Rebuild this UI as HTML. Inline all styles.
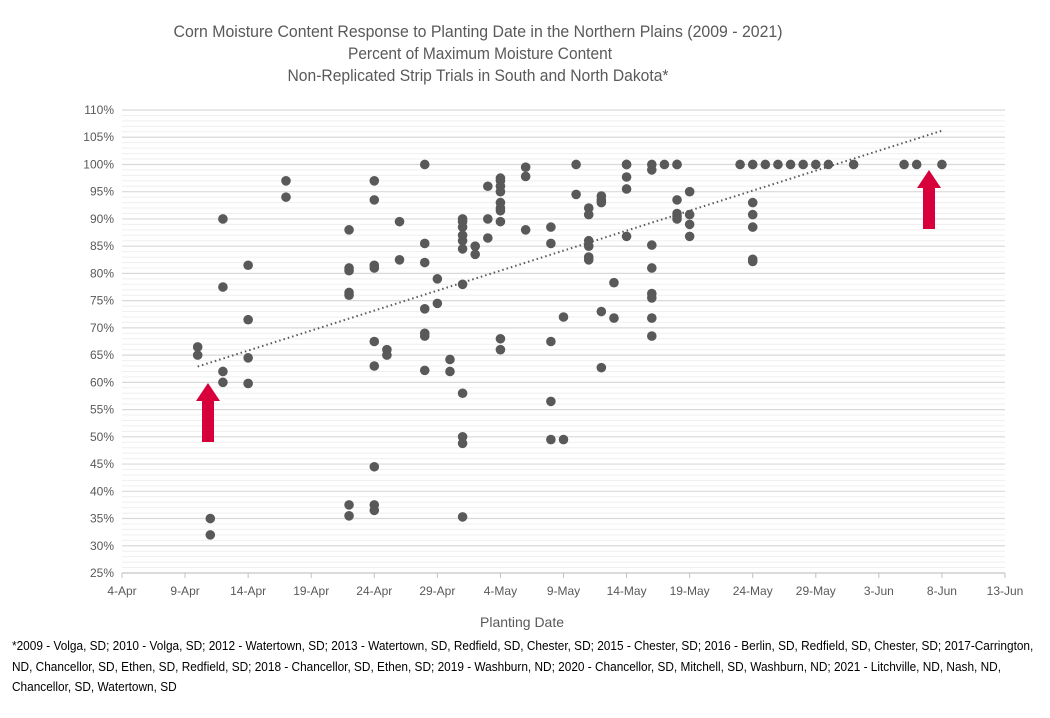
<!DOCTYPE html>
<html><head><meta charset="utf-8"><style>
body{margin:0;background:#fff;width:1050px;height:718px;overflow:hidden;font-family:"Liberation Sans Narrow","Liberation Sans",sans-serif;}
.foot{position:absolute;left:12px;top:636px;width:1150px;font-size:13.3px;line-height:20.5px;color:#000;transform:scaleX(0.89);transform-origin:0 0;}
</style></head><body>
<svg width="1050" height="718" style="position:absolute;left:0;top:0">
<g font-family="Liberation Sans Narrow, Liberation Sans, sans-serif" fill="#595959" text-anchor="middle" font-size="17">
<text x="478" y="37" textLength="609" lengthAdjust="spacingAndGlyphs">Corn Moisture Content Response to Planting Date in the Northern Plains (2009 - 2021)</text>
<text x="480" y="59" textLength="264" lengthAdjust="spacingAndGlyphs">Percent of Maximum Moisture Content</text>
<text x="478" y="81" textLength="381" lengthAdjust="spacingAndGlyphs">Non-Replicated Strip Trials in South and North Dakota*</text>
</g>
<g id="grid"></g><g id="yt"></g><g id="xt"></g>
<line id="trend" stroke="#595959" stroke-width="2" stroke-dasharray="1.5,3"/>
<g id="pts"></g>
<text x="522" y="627" font-size="14" fill="#595959" text-anchor="middle" font-family="Liberation Sans Narrow, Liberation Sans, sans-serif" textLength="84" lengthAdjust="spacingAndGlyphs">Planting Date</text>
<g><rect x="202" y="400" width="12" height="42" fill="#d8003a"/><polygon points="196,401 208,383 220,401" fill="#d8003a"/></g>
<g><rect x="923" y="187" width="12" height="42" fill="#d8003a"/><polygon points="917,188 929,170 941,188" fill="#d8003a"/></g>
</svg>
<div class="foot">*2009 - Volga, SD; 2010 - Volga, SD; 2012 - Watertown, SD; 2013 - Watertown, SD, Redfield, SD, Chester, SD; 2015 - Chester, SD; 2016 - Berlin, SD, Redfield, SD, Chester, SD; 2017-Carrington, ND, Chancellor, SD, Ethen, SD, Redfield, SD; 2018 - Chancellor, SD, Ethen, SD; 2019 - Washburn, ND; 2020 - Chancellor, SD, Mitchell, SD, Washburn, ND; 2021 - Litchville, ND, Nash, ND, Chancellor, SD, Watertown, SD</div>
<script>
const xTickLabels=["4-Apr","9-Apr","14-Apr","19-Apr","24-Apr","29-Apr","4-May","9-May","14-May","19-May","24-May","29-May","3-Jun","8-Jun","13-Jun"];
const yTicks=[25,30,35,40,45,50,55,60,65,70,75,80,85,90,95,100,105,110];
// days after 4-Apr
const pointDays=[6,6,7,7,8,8,8,8,10,10,10,10,13,13,
18,18,18,18,18,18,18,20,20,20,20,20,20,20,20,20,21,21,22,22,
24,24,24,24,24,24,24,25,25,26,26,
27,27,27,27,27,27,27,27,27,27,27,28,28,29,29,29,
30,30,30,30,30,30,30,30,30,30,32,32,32,
34,34,34,34,34,35,35,36,36,
37,37,37,37,37,37,38,38,38,38,38,39,39,
40,40,40,40,40,
42,42,42,42,42,42,42,42,43,44,44,44,44,44,44,45,45,45,45,
49,50,50,50,50,50,50,51,52,53,54,55,56,58,62,63,65];
const pointValues=[66.5,65,35,32,90,77.5,62,60,81.5,71.5,64.5,59.8,97,94,
88,81,80.5,76.5,76,37.5,35.5,97,93.5,81.5,81,67.5,63,44.5,37.5,36.5,66,65,89.5,82.5,
100,85.5,82,73.5,69,68.5,62.2,79,74.5,64.2,62,
90,89.5,88.5,87,86,84.5,78,58,50,48.8,35.3,85,83.5,96,90,86.5,
97.5,97,96,95,93,92,91.5,89.5,68,66,99.5,97.8,88,
88.5,85.5,67.5,56.5,49.5,72,49.5,100,94.5,
92,90.8,86,85,83,82.5,94.2,93.5,93,73,62.7,78.3,71.8,
100,100,97.7,95.5,86.8,
100,99,85.2,81,76.3,75.5,71.8,68.5,100,100,100,93.5,91,90.5,90,95,90.8,89,86.8,
100,100,93,90.8,88.5,82.6,82.2,100,100,100,100,100,100,100,100,100,100];
const trendDays=[6,65];
const trendValues=[62.9,106.2];
const X0=122,X1=1005,Y0=573,Y1=110;
const xs=d=>X0+d*(X1-X0)/70;
const ys=v=>Y0-(v-25)*(Y0-Y1)/85;
const NS="http://www.w3.org/2000/svg";
function mk(t,a,p){const e=document.createElementNS(NS,t);for(const k in a)e.setAttribute(k,a[k]);p.appendChild(e);return e;}
const grid=document.getElementById('grid');
for(let v=25;v<=110;v++){
 const l=mk('line',{x1:X0,x2:X1,y1:ys(v),y2:ys(v),stroke:v%5==0?'#d9d9d9':'#efefef','stroke-width':v%5==0?1.2:1},grid);
 
 
}
const yt=document.getElementById('yt');
yTicks.forEach(v=>{const t=mk('text',{x:X0-8,y:ys(v)+4,'font-size':12,fill:'#595959','text-anchor':'end'},yt);t.textContent=v+'%';
 
 });
const xt=document.getElementById('xt');
xTickLabels.forEach((s,i)=>{const t=mk('text',{x:xs(i*5),y:595,'font-size':12,fill:'#595959','text-anchor':'middle'},xt);t.textContent=s;
 
 
 const k=mk('line',{x1:xs(i*5),x2:xs(i*5),y1:Y0,y2:Y0+5,stroke:'#bfbfbf'},xt);
 
 });
const ax=mk('line',{x1:X0,x2:X1,y1:Y0,y2:Y0,stroke:'#bfbfbf'},xt);


const tr=document.getElementById('trend');
tr.setAttribute('x1',xs(trendDays[0]));tr.setAttribute('y1',ys(trendValues[0]));
tr.setAttribute('x2',xs(trendDays[1]));tr.setAttribute('y2',ys(trendValues[1]));
const pts=document.getElementById('pts');
const n=Math.min(pointDays.length,pointValues.length);
for(let i=0;i<n;i++){const c=mk('circle',{cx:xs(pointDays[i]),cy:ys(pointValues[i]),r:4.8,fill:'#595959'},pts);
 
 }
</script>
</body></html>
